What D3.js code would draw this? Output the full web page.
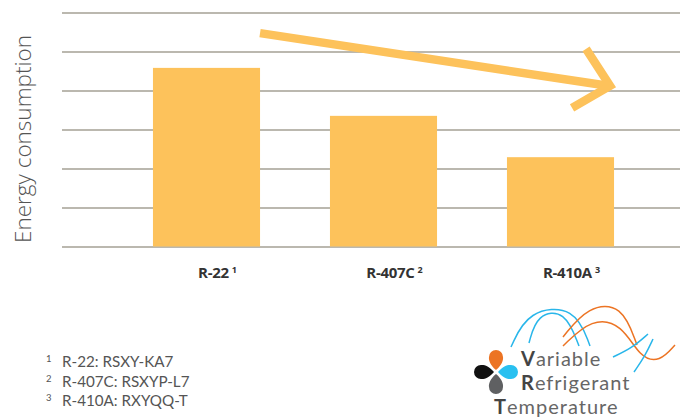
<!DOCTYPE html>
<html>
<head>
<meta charset="utf-8">
<script src="https://cdn.jsdelivr.net/npm/d3@7"></script>
<style>
  body { margin: 0; background: #fff; }
  svg { display: block; font-family: "Open Sans", sans-serif; }
  .grid line { stroke: #bbb8af; stroke-width: 2; }
  .grid .domain { display: none; }
  .lato { font-family: Lato, "Open Sans", sans-serif; }
</style>
</head>
<body>
<div id="chart"></div>
<script>
var categories = ["R-22", "R-407C", "R-410A"];
var notes = ["1", "2", "3"];
var values = [4.58, 3.35, 2.29];
var gridTicks = [0, 1, 2, 3, 4, 5, 6];
var footnotes = ["R-22: RSXY-KA7", "R-407C: RSXYP-L7", "R-410A: RXYQQ-T"];
// trend arrow, in value units: from right edge of first bar to right edge of last
var trendFrom = 5.47, trendTo = 4.12;

var width = 680, height = 419;
var barColor = "#fdc25b";

var svg = d3.select("#chart").append("svg")
  .attr("width", width)
  .attr("height", height);

var x = d3.scaleBand().domain(categories).range([118, 649])
  .paddingInner(0.395).paddingOuter(0.1975);
var y = d3.scaleLinear().domain([0, 6]).range([246.5, 12.5]);

// gridlines
svg.append("g")
  .attr("class", "grid")
  .attr("transform", "translate(680,0)")
  .call(d3.axisLeft(y).tickValues(gridTicks).tickSize(618).tickFormat(""));

// bars
svg.selectAll("rect.bar")
  .data(values)
  .enter()
  .append("rect")
  .attr("class", "bar")
  .attr("x", function(d, i){ return x(categories[i]) })
  .attr("y", function(d){ return y(d) })
  .attr("width", x.bandwidth())
  .attr("height", function(d){ return y(0) - y(d) })
  .attr("fill", barColor);

// y label
svg.append("text")
  .attr("transform", "translate(31,139) rotate(-90)")
  .attr("text-anchor", "middle")
  .attr("font-size", 22.5)
  .attr("font-weight", 300)
  .attr("fill", "#555")
  .text("Energy consumption");

// category labels
var lab = svg.selectAll("text.cat")
  .data(categories)
  .enter()
  .append("text")
  .attr("class", "cat")
  .attr("x", function(d){ return x(d) + x.bandwidth() / 2 + 11 })
  .attr("y", 278)
  .attr("text-anchor", "middle")
  .attr("fill", "#333");
lab.append("tspan")
  .attr("font-size", 15)
  .attr("font-weight", 700)
  .attr("letter-spacing", -0.3)
  .text(function(d){ return d });
lab.append("tspan")
  .attr("font-size", 9)
  .attr("font-weight", 700)
  .attr("dx", 3)
  .attr("dy", -5)
  .text(function(d, i){ return notes[i] });

// trend arrow
var x0 = x(categories[0]) + x.bandwidth();
var x1 = x(categories[2]) + x.bandwidth() - 2;
var ax = svg.append("g")
  .attr("fill", "none")
  .attr("stroke", barColor)
  .attr("stroke-width", 8.5);
ax.append("line")
  .attr("x1", x0).attr("y1", y(trendFrom))
  .attr("x2", x1 - 4).attr("y2", y(trendTo));
ax.append("path")
  .attr("stroke-linejoin", "miter")
  .attr("d", d3.line()([[x1 - 26, y(trendTo) - 37], [x1 - 2, y(trendTo)], [x1 - 40, y(trendTo) + 22]]));

// footnotes
var fn = svg.selectAll("g.fn")
  .data(footnotes)
  .enter()
  .append("g")
  .attr("class", "fn lato")
  .attr("transform", function(d, i){ return "translate(0," + (367 + i * 19.5) + ")" });
fn.append("text")
  .attr("x", 46)
  .attr("y", -5)
  .attr("font-size", 9.5)
  .attr("fill", "#555")
  .text(function(d, i){ return notes[i] });
fn.append("text")
  .attr("x", 62)
  .attr("font-size", 15.2)
  .attr("fill", "#555")
  .text(function(d){ return d });

// logo
var logo = svg.append("g").attr("class", "lato");
var curve = d3.line().curve(d3.curveBasis);
var waves = [
  { c: "#29b6ea", p: [[511, 347], [528, 310], [575, 306], [590, 346]] },
  { c: "#29b6ea", p: [[529, 343], [537, 314], [565, 310], [579, 346]] },
  { c: "#ec7424", p: [[563, 337], [588, 306], [622, 304], [637, 345]] },
  { c: "#ec7424", p: [[563, 346], [592, 318], [622, 324], [640, 358], [660, 362], [675, 345]] },
  { c: "#29b6ea", p: [[613, 357], [632, 348], [648, 334]] },
  { c: "#29b6ea", p: [[634, 372], [645, 356], [653, 339]] }
];
logo.selectAll("path.wave")
  .data(waves)
  .enter()
  .append("path")
  .attr("class", "wave")
  .attr("fill", "none")
  .attr("stroke", function(d){ return d.c })
  .attr("stroke-width", 1.5)
  .attr("d", function(d){ return curve(d.p) });

var petals = [
  { c: "#ec7424", a: 0 },
  { c: "#29c0f0", a: 90 },
  { c: "#5f6062", a: 180 },
  { c: "#111", a: 270 }
];
var drop = "M0,-2 C-6,-7 -7.5,-12 -7,-15 A7,7 0 1 1 7,-15 C7.5,-12 6,-7 0,-2 Z";
logo.selectAll("path.petal")
  .data(petals)
  .enter()
  .append("path")
  .attr("class", "petal")
  .attr("transform", function(d){ return "translate(496,372) rotate(" + d.a + ")" })
  .attr("fill", function(d){ return d.c })
  .attr("d", drop);

var words = [["V", "ariable", 521, 366], ["R", "efrigerant", 521, 390], ["T", "emperature", 494, 414]];
var wt = logo.selectAll("text.word")
  .data(words)
  .enter()
  .append("text")
  .attr("class", "word")
  .attr("x", function(d){ return d[2] })
  .attr("y", function(d){ return d[3] })
  .attr("font-size", 20)
  .attr("letter-spacing", 1);
wt.append("tspan").attr("font-weight", 700).attr("fill", "#444").text(function(d){ return d[0] });
wt.append("tspan").attr("fill", "#666").text(function(d){ return d[1] });
</script>
</body>
</html>
